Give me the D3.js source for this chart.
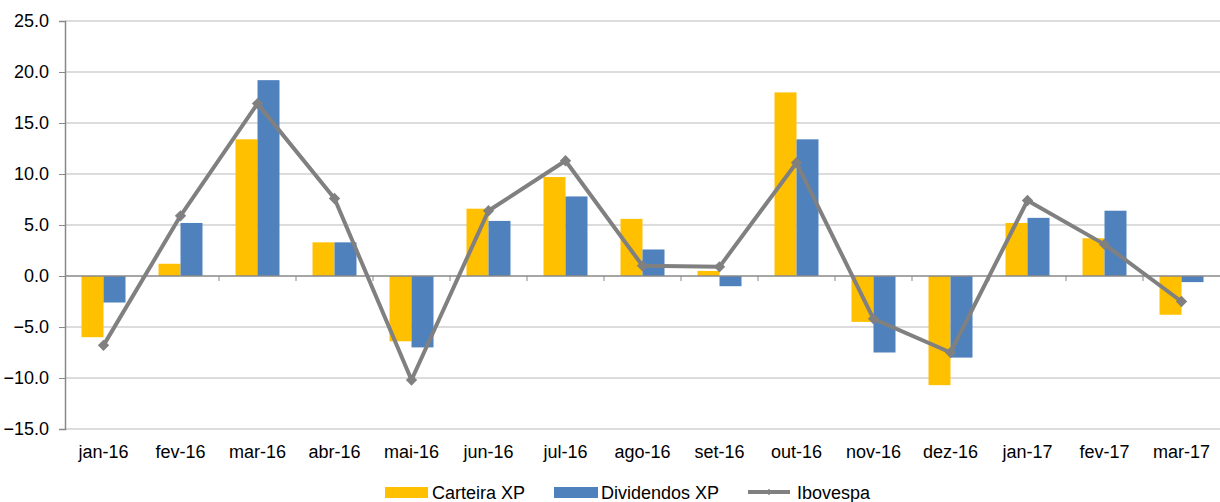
<!DOCTYPE html>
<meta charset="utf-8">
<html lang="pt">
  <head>
    <style>
      body { margin: 0; background: #fff; }
      text { font-family: "Liberation Sans", Arial, sans-serif; fill: #000; }
      .grid line { stroke: #d0d0d0; stroke-width: 1.5px; }
    </style>
  </head>
  <body>
    <script src="https://cdnjs.cloudflare.com/ajax/libs/d3/7.8.5/d3.min.js"></script>
    <svg id="chart" style="display:block"></svg>
    <script>

      var months = ["jan-16", "fev-16", "mar-16", "abr-16", "mai-16", "jun-16", "jul-16",
                    "ago-16", "set-16", "out-16", "nov-16", "dez-16", "jan-17", "fev-17", "mar-17"];
      var carteira = [-6.0, 1.2, 13.4, 3.3, -6.4, 6.6, 9.7, 5.6, 0.5, 18.0, -4.5, -10.7, 5.2, 3.7, -3.8];
      var dividendos = [-2.6, 5.2, 19.2, 3.3, -7.0, 5.4, 7.8, 2.6, -1.0, 13.4, -7.5, -8.0, 5.7, 6.4, -0.6];
      var ibovespa = [-6.8, 5.9, 16.9, 7.6, -10.2, 6.4, 11.3, 1.0, 0.9, 11.1, -4.2, -7.5, 7.4, 3.1, -2.5];
      var yTicks = [-15, -10, -5, 0, 5, 10, 15, 20, 25];

      var width = 1220, height = 502;
      var plotLeft = 65, plotRight = 1220, plotTop = 21, plotBottom = 429;

      var svg = d3.select("#chart").attr("width", width).attr("height", height);

      var x = d3.scaleBand().domain(months).range([plotLeft, plotRight]);
      var inner = d3.scaleBand().domain(["c", "d"]).range([0, 44]);
      var y = d3.scaleLinear().domain([-15, 25]).range([plotBottom, plotTop]);

      // gridlines
      svg.append("g").attr("class", "grid")
        .selectAll("line").data(yTicks.filter(function(d) { return d !== 0; }))
        .enter().append("line")
        .attr("x1", plotLeft).attr("x2", plotRight)
        .attr("y1", function(d) { return y(d); })
        .attr("y2", function(d) { return y(d); });

      // y axis
      var yAxis = svg.append("g")
        .attr("transform", "translate(" + plotLeft + ",0)")
        .call(d3.axisLeft(y).tickValues(yTicks).tickFormat(d3.format(".1f")).tickSize(6).tickPadding(10));
      yAxis.select(".domain").attr("stroke", "#888").attr("stroke-width", 1.5);
      yAxis.selectAll(".tick line").attr("stroke", "#888");
      yAxis.selectAll("text").style("font-size", "18px").attr("fill", "#000");

      // bars
      function bars(vals, key, color) {
        svg.append("g").selectAll("rect").data(vals).enter().append("rect")
          .attr("x", function(d, i) { return x(months[i]) + (x.bandwidth() - 44) / 2 + inner(key); })
          .attr("width", inner.bandwidth())
          .attr("y", function(d) { return y(Math.max(0, d)); })
          .attr("height", function(d) { return Math.abs(y(d) - y(0)); })
          .attr("fill", color);
      }
      bars(carteira, "c", "#FFC000");
      bars(dividendos, "d", "#4F81BD");

      // zero axis with category ticks
      var xAxis = svg.append("g")
        .attr("transform", "translate(0," + y(0) + ")");
      xAxis.append("line").attr("x1", plotLeft).attr("x2", plotRight)
        .attr("stroke", "#888").attr("stroke-width", 1.5);
      xAxis.selectAll(".xt").data(months.slice(1)).enter().append("line")
        .attr("x1", function(d) { return x(d); }).attr("x2", function(d) { return x(d); })
        .attr("y1", 0).attr("y2", 5).attr("stroke", "#888");

      // category labels
      svg.append("g").selectAll("text").data(months).enter().append("text")
        .attr("x", function(d) { return x(d) + x.bandwidth() / 2; })
        .attr("y", 458)
        .attr("text-anchor", "middle")
        .style("font-size", "18px")
        .text(function(d) { return d; });

      // Ibovespa line
      var line = d3.line()
        .x(function(d, i) { return x(months[i]) + x.bandwidth() / 2; })
        .y(function(d) { return y(d); });
      svg.append("path").datum(ibovespa)
        .attr("d", line).attr("fill", "none")
        .attr("stroke", "#808080").attr("stroke-width", 4).attr("stroke-linejoin", "round");
      svg.append("g").selectAll("path").data(ibovespa).enter().append("path")
        .attr("d", d3.symbol().type(d3.symbolSquare).size(64))
        .attr("transform", function(d, i) {
          return "translate(" + (x(months[i]) + x.bandwidth() / 2) + "," + y(d) + ") rotate(45)";
        })
        .attr("fill", "#808080");

      // legend
      var legend = svg.append("g").attr("transform", "translate(0,492)");
      legend.append("rect").attr("x", 385).attr("y", -5).attr("width", 43).attr("height", 11).attr("fill", "#FFC000");
      legend.append("text").attr("x", 432).attr("y", 6.5).style("font-size", "18px").text("Carteira XP");
      legend.append("rect").attr("x", 554).attr("y", -5).attr("width", 44).attr("height", 11).attr("fill", "#4F81BD");
      legend.append("text").attr("x", 601).attr("y", 6.5).style("font-size", "18px").text("Dividendos XP");
      legend.append("line").attr("x1", 748).attr("x2", 790).attr("y1", 0).attr("y2", 0)
        .attr("stroke", "#808080").attr("stroke-width", 4);
      legend.append("path").attr("d", d3.symbol().type(d3.symbolSquare).size(20))
        .attr("transform", "translate(769,0) rotate(45)").attr("fill", "#808080");
      legend.append("text").attr("x", 797).attr("y", 6.5).style("font-size", "18px").text("Ibovespa");

    </script>
  </body>
</html>
